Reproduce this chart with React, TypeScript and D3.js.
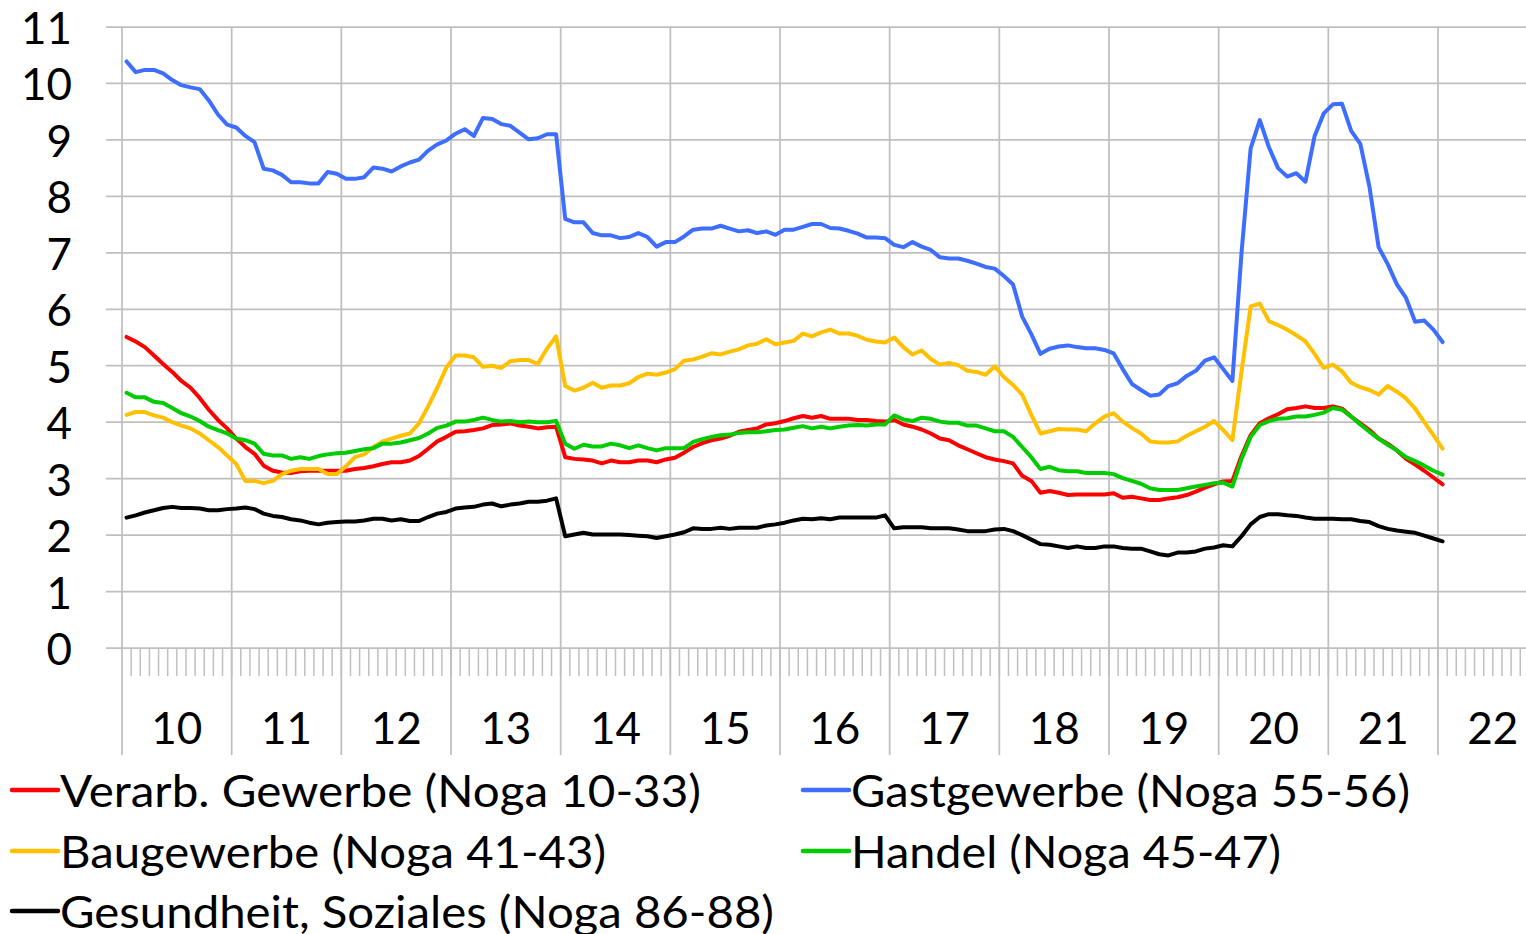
import React from "react";
import * as d3 from "d3";

const years = ["10", "11", "12", "13", "14", "15", "16", "17", "18", "19", "20", "21", "22"];
const months = ["01", "02", "03", "04", "05", "06", "07", "08", "09", "10", "11", "12"];
const yTicks = [0, 1, 2, 3, 4, 5, 6, 7, 8, 9, 10, 11];

// Monthly values Jan 2010 – Jan 2022
const verarb = [
  5.51, 5.43, 5.33, 5.18, 5.03, 4.89, 4.73, 4.61, 4.43, 4.22, 4.04, 3.89,
  3.71, 3.56, 3.44, 3.23, 3.14, 3.11, 3.10, 3.13, 3.14, 3.14, 3.14, 3.14,
  3.14, 3.17, 3.19, 3.22, 3.26, 3.29, 3.29, 3.32, 3.40, 3.53, 3.66, 3.74,
  3.83, 3.84, 3.86, 3.89, 3.95, 3.96, 3.98, 3.94, 3.92, 3.89, 3.91, 3.92,
  3.38, 3.35, 3.34, 3.32, 3.27, 3.32, 3.29, 3.29, 3.32, 3.32, 3.29, 3.34,
  3.37, 3.46, 3.56, 3.63, 3.68, 3.71, 3.76, 3.83, 3.86, 3.89, 3.96, 3.98,
  4.02, 4.07, 4.11, 4.08, 4.11, 4.06, 4.06, 4.06, 4.04, 4.04, 4.02, 4.01,
  4.04, 3.96, 3.92, 3.87, 3.80, 3.71, 3.68, 3.59, 3.52, 3.45, 3.38, 3.34,
  3.31, 3.27, 3.05, 2.96, 2.75, 2.78, 2.75, 2.71, 2.72, 2.72, 2.72, 2.72,
  2.74, 2.66, 2.68, 2.65, 2.62, 2.62, 2.65, 2.67, 2.71, 2.77, 2.84, 2.90,
  2.95, 2.96, 3.40, 3.77, 3.98, 4.07, 4.14, 4.23, 4.25, 4.28, 4.25, 4.25,
  4.28, 4.24, 4.10, 3.98, 3.86, 3.71, 3.62, 3.50, 3.35, 3.25, 3.14, 3.02,
  2.90,
];
const gast = [
  10.39, 10.2, 10.24, 10.24, 10.18, 10.06, 9.97, 9.93, 9.9, 9.7, 9.45, 9.27,
  9.22, 9.07, 8.96, 8.49, 8.46, 8.38, 8.25, 8.25, 8.23, 8.23, 8.43, 8.4,
  8.31, 8.31, 8.34, 8.51, 8.49, 8.44, 8.53, 8.6, 8.65, 8.81, 8.92, 8.99,
  9.11, 9.19, 9.07, 9.39, 9.37, 9.28, 9.25, 9.13, 9.01, 9.03, 9.1, 9.1,
  7.6, 7.54, 7.54, 7.35, 7.31, 7.31, 7.26, 7.28, 7.35, 7.28, 7.11, 7.19,
  7.19, 7.29, 7.41, 7.43, 7.43, 7.48, 7.43, 7.38, 7.4, 7.35, 7.38, 7.32,
  7.41, 7.41, 7.46, 7.51, 7.51, 7.44, 7.43, 7.39, 7.34, 7.27, 7.27, 7.26,
  7.14, 7.1, 7.19, 7.11, 7.05, 6.92, 6.9, 6.9, 6.86, 6.81, 6.75, 6.72,
  6.59, 6.44, 5.87, 5.56, 5.21, 5.3, 5.34, 5.36, 5.33, 5.31, 5.31, 5.28,
  5.22, 4.94, 4.68, 4.57, 4.47, 4.49, 4.64, 4.69, 4.82, 4.91, 5.09, 5.15,
  4.94, 4.73, 7.0, 8.85, 9.35, 8.87, 8.5, 8.35, 8.41, 8.26, 9.07, 9.47,
  9.63, 9.64, 9.16, 8.93, 8.17, 7.1, 6.8, 6.44, 6.2, 5.78, 5.8, 5.64,
  5.42,
];
const bau = [
  4.13, 4.18, 4.18, 4.12, 4.08, 4.0, 3.94, 3.89, 3.8, 3.68, 3.56, 3.41,
  3.26, 2.96, 2.96, 2.92, 2.96, 3.08, 3.14, 3.17, 3.17, 3.17, 3.08, 3.08,
  3.22, 3.38, 3.43, 3.56, 3.66, 3.71, 3.76, 3.8, 3.98, 4.28, 4.61, 4.97,
  5.18, 5.18, 5.15, 4.98, 5.0, 4.96, 5.08, 5.1, 5.1, 5.03, 5.3, 5.52,
  4.64, 4.56, 4.61, 4.7, 4.61, 4.65, 4.65, 4.69, 4.8, 4.86, 4.84, 4.88,
  4.94, 5.09, 5.11, 5.16, 5.22, 5.2, 5.25, 5.29, 5.36, 5.39, 5.47, 5.38,
  5.41, 5.44, 5.57, 5.52, 5.59, 5.64, 5.57, 5.57, 5.53, 5.46, 5.43, 5.41,
  5.5, 5.33, 5.2, 5.27, 5.12, 5.02, 5.05, 5.01, 4.91, 4.89, 4.84, 4.99,
  4.8, 4.66, 4.49, 4.13, 3.8, 3.84, 3.88, 3.87, 3.87, 3.84, 3.98, 4.1,
  4.16, 4.01, 3.9, 3.8, 3.66, 3.64, 3.64, 3.66, 3.76, 3.84, 3.92, 4.02,
  3.86, 3.68, 4.9, 6.05, 6.1, 5.79, 5.72, 5.64, 5.54, 5.43, 5.21, 4.96,
  5.02, 4.9, 4.7, 4.62, 4.57, 4.49, 4.64, 4.54, 4.42, 4.24, 4.0, 3.77,
  3.53,
];
const handel = [
  4.52, 4.44, 4.44, 4.36, 4.34, 4.25, 4.16, 4.1, 4.02, 3.92, 3.86, 3.8,
  3.71, 3.68, 3.62, 3.44, 3.41, 3.41, 3.35, 3.38, 3.35, 3.4, 3.43, 3.45,
  3.46, 3.49, 3.52, 3.54, 3.62, 3.62, 3.64, 3.68, 3.72, 3.8, 3.9, 3.94,
  4.01, 4.01, 4.04, 4.08, 4.04, 4.01, 4.02, 4.0, 4.01, 4.0, 4.0, 4.02,
  3.62, 3.53, 3.6, 3.57, 3.57, 3.62, 3.59, 3.54, 3.59, 3.54, 3.5, 3.54,
  3.54, 3.54, 3.65, 3.7, 3.74, 3.77, 3.78, 3.81, 3.82, 3.82, 3.84, 3.86,
  3.87, 3.9, 3.93, 3.89, 3.92, 3.89, 3.92, 3.94, 3.95, 3.94, 3.96, 3.96,
  4.12, 4.05, 4.02, 4.08, 4.06, 4.01, 3.99, 3.99, 3.94, 3.94, 3.89, 3.84,
  3.84, 3.74, 3.56, 3.38, 3.17, 3.21, 3.15, 3.13, 3.13, 3.1, 3.1, 3.1,
  3.08, 3.01, 2.96, 2.91, 2.83, 2.8, 2.8, 2.8, 2.83, 2.86, 2.89, 2.92,
  2.93, 2.86, 3.35, 3.74, 3.95, 4.02, 4.06, 4.07, 4.1, 4.1, 4.13, 4.17,
  4.25, 4.22, 4.1, 3.96, 3.83, 3.71, 3.6, 3.5, 3.38, 3.31, 3.23, 3.14,
  3.07,
];
const gesundheit = [
  2.31, 2.35, 2.4, 2.44, 2.48, 2.5, 2.48, 2.48, 2.47, 2.44, 2.44, 2.46,
  2.47, 2.49, 2.46, 2.38, 2.34, 2.32, 2.28, 2.26, 2.22, 2.19, 2.22, 2.23,
  2.24, 2.24, 2.26, 2.29, 2.29, 2.26, 2.28, 2.25, 2.25, 2.32, 2.38, 2.41,
  2.47, 2.49, 2.5, 2.54, 2.56, 2.51, 2.54, 2.56, 2.59, 2.59, 2.61, 2.65,
  1.98, 2.01, 2.04, 2.01, 2.01, 2.01, 2.01, 2.0, 1.99, 1.98, 1.95, 1.98,
  2.01, 2.05, 2.12, 2.11, 2.11, 2.13, 2.11, 2.13, 2.13, 2.13, 2.17, 2.19,
  2.22, 2.26, 2.29, 2.28, 2.3, 2.28, 2.31, 2.31, 2.31, 2.31, 2.31, 2.35,
  2.12, 2.14, 2.14, 2.14, 2.12, 2.12, 2.12, 2.1, 2.07, 2.07, 2.07, 2.1,
  2.11, 2.07, 2.0, 1.92, 1.84, 1.83, 1.8, 1.77, 1.8, 1.77, 1.77, 1.8,
  1.8, 1.77, 1.76, 1.76, 1.71, 1.66, 1.64, 1.69, 1.69, 1.71, 1.76, 1.78,
  1.82, 1.8, 1.98, 2.19, 2.32, 2.37, 2.37, 2.35, 2.34, 2.31, 2.29, 2.29,
  2.29, 2.28, 2.28, 2.25, 2.23, 2.16, 2.11, 2.08, 2.06, 2.04, 1.99, 1.94,
  1.89,
];

const seriesNames = [
  "Verarb. Gewerbe (Noga 10-33)",
  "Gastgewerbe (Noga 55-56)",
  "Baugewerbe (Noga 41-43)",
  "Handel (Noga 45-47)",
  "Gesundheit, Soziales (Noga 86-88)",
];
const seriesValues = [verarb, gast, bau, handel, gesundheit];
const seriesColors = ["#FF0000", "#3D6EFF", "#FFC000", "#00CC00", "#000000"];

const categories = years.flatMap((y) => months.map((m) => `${y}-${m}`));

const W = 1526;
const H = 934;
const FONT = "Lato, 'Open Sans', sans-serif";
const GRID = "#BFBFBF";

export default function App() {
  const plotLeft = 122;
  const yearW = (1438 - 122) / 12;
  const plotRight = plotLeft + yearW * years.length;
  const x = d3.scaleBand<string>().domain(categories).range([plotLeft, plotRight]).padding(0);
  const bw = x.bandwidth();
  const y = d3.scaleLinear().domain([0, 11]).range([648, 27]);
  const xYear = d3.scaleBand<string>().domain(years).range([plotLeft, plotRight]).padding(0);

  const line = d3
    .line<number>()
    .x((_, i) => (x(categories[i]) as number) + bw / 2)
    .y((v) => y(v));

  const legendRows = [
    { idx: 0, lx: 12, ty: 790, tl: 641 },
    { idx: 1, lx: 803, ty: 790, tl: 559 },
    { idx: 2, lx: 12, ty: 851, tl: 546 },
    { idx: 3, lx: 803, ty: 851, tl: 430 },
    { idx: 4, lx: 12, ty: 911, tl: 714 },
  ];

  return (
    <svg
      width={W}
      height={H}
      style={{ position: "absolute", left: 0, top: 0, background: "#fff" }}
      fontFamily={FONT}
    >
      <rect x={0} y={0} width={W} height={H} fill="#fff" />
      {/* horizontal gridlines */}
      {yTicks.map((t) => (
        <line key={"h" + t} x1={106} x2={W} y1={y(t)} y2={y(t)} stroke={GRID} strokeWidth={1.75} />
      ))}
      {/* monthly minor ticks */}
      {categories.map((c) => (
        <line
          key={"m" + c}
          x1={(x(c) as number) + bw}
          x2={(x(c) as number) + bw}
          y1={y(0)}
          y2={676}
          stroke={GRID}
          strokeWidth={1.5}
        />
      ))}
      {/* yearly vertical gridlines */}
      {years.map((yr) => (
        <line
          key={"v" + yr}
          x1={xYear(yr) as number}
          x2={xYear(yr) as number}
          y1={y(11)}
          y2={755}
          stroke={GRID}
          strokeWidth={1.75}
        />
      ))}
      {/* y tick labels */}
      {yTicks.map((t) => (
        <text
          key={"yl" + t}
          x={72}
          y={y(t)}
          textAnchor="end"
          dominantBaseline="central"
          fontSize={44}
          fill="#000"
        >
          {t}
        </text>
      ))}
      {/* x labels */}
      {years.map((yr) => (
        <text
          key={"xl" + yr}
          x={(xYear(yr) as number) + xYear.bandwidth() / 2}
          y={727}
          textAnchor="middle"
          dominantBaseline="central"
          fontSize={44}
          fill="#000"
        >
          {yr}
        </text>
      ))}
      {/* series */}
      {seriesValues.map((vals, si) => (
        <path
          key={"s" + si}
          d={line(vals) || ""}
          fill="none"
          stroke={seriesColors[si]}
          strokeWidth={4}
          strokeLinejoin="round"
          strokeLinecap="round"
        />
      ))}
      {/* legend */}
      {legendRows.map((r) => (
        <g key={"lg" + r.idx}>
          <line
            x1={r.lx}
            x2={r.lx + 46}
            y1={r.ty}
            y2={r.ty}
            stroke={seriesColors[r.idx]}
            strokeWidth={4.5}
            strokeLinecap="round"
          />
          <text
            x={r.lx + 48}
            y={r.ty}
            dominantBaseline="central"
            fontSize={44}
            fill="#000"
            textLength={r.tl}
            lengthAdjust="spacingAndGlyphs"
          >
            {seriesNames[r.idx]}
          </text>
        </g>
      ))}
    </svg>
  );
}
